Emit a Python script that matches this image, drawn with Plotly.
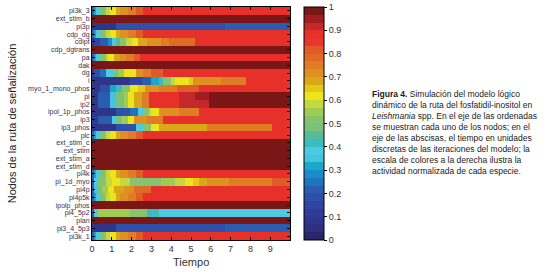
import plotly.graph_objects as go

# ---------------- data ----------------
nodes = ["pi3k_3", "ext_stim_b", "pi3p", "cdp_dg", "cdipt", "cdp_dgtrans", "pa", "dak",
         "dg", "i", "myo_1_mono_phos", "pi", "ip2", "ipol_1p_phos", "ip3", "ip3_phos",
         "plc", "ext_stim_c", "ext_stim", "ext_stim_a", "ext_stim_d", "pi4k", "pi_1d_myo",
         "pi4p", "pi4p5k", "ipolp_phos", "pi4_5p2", "plan", "pi3_4_5p3", "pi3k_1"]

# each profile: list of (start time, normalized activity)
act_pi3k_3 = [(0, 0.22), (0.15, 0.32), (0.25, 0.38), (0.4, 0.47), (0.6, 0.52), (0.75, 0.57),
              (0.95, 0.62), (1.2, 0.67), (1.45, 0.72), (1.8, 0.76), (2.2, 0.8), (2.6, 0.87)]
act_ext_stim_b = [(0, 0.99)]
act_pi3p = [(0, 0.08), (1.2, 0.17), (6.7, 0.2)]
act_cdp_dg = [(0, 0.22), (0.15, 0.32), (0.25, 0.38), (0.4, 0.47), (0.6, 0.52), (0.75, 0.57),
              (0.95, 0.62), (1.2, 0.67), (1.45, 0.72), (1.8, 0.76), (2.2, 0.8), (2.6, 0.87)]
act_cdipt = [(0, 0.07), (0.15, 0.15), (0.45, 0.22), (0.8, 0.27), (1.0, 0.37), (1.2, 0.45),
             (1.45, 0.52), (1.75, 0.57), (2.0, 0.62), (2.35, 0.67), (2.8, 0.72), (3.5, 0.76),
             (3.9, 0.79), (5.2, 0.87)]
act_cdp_dgtrans = [(0, 0.99)]
act_pa = [(0, 0.22), (0.15, 0.32), (0.25, 0.38), (0.4, 0.47), (0.55, 0.53), (0.7, 0.58),
          (0.85, 0.62), (1.1, 0.67), (1.4, 0.72), (1.7, 0.76), (2.1, 0.8), (2.45, 0.87)]
act_dak = [(0, 0.99)]
act_dg = [(0, 0.07), (0.1, 0.18), (0.4, 0.25), (0.75, 0.37), (1.1, 0.47), (1.35, 0.55),
          (1.6, 0.6), (1.9, 0.63), (2.2, 0.7), (2.6, 0.75), (3.0, 0.8), (3.6, 0.87)]
act_i = [(0, 0.07), (1.9, 0.15), (2.5, 0.22), (3.0, 0.33), (3.4, 0.4), (3.65, 0.5),
         (4.0, 0.57), (4.25, 0.62), (4.9, 0.66), (5.1, 0.7), (6.5, 0.75), (7.8, 0.87)]
act_myo_1_mono_phos = [(0, 0.07), (0.4, 0.18), (0.9, 0.3), (1.2, 0.42), (1.5, 0.52),
                       (1.9, 0.6), (2.3, 0.65), (2.7, 0.72), (3.4, 0.76), (4.3, 0.8), (5.4, 0.87)]
act_pi = [(0, 0.07), (0.3, 0.2), (0.9, 0.35), (1.2, 0.47), (1.6, 0.55), (1.8, 0.62),
          (2.1, 0.68), (2.5, 0.75), (2.9, 0.87), (4.4, 0.92), (5.2, 0.95), (5.9, 0.99)]
act_ip2 = [(0, 0.07), (0.3, 0.2), (0.9, 0.35), (1.2, 0.47), (1.6, 0.55), (1.8, 0.62),
           (2.1, 0.68), (2.5, 0.75), (2.9, 0.87), (4.4, 0.92), (5.9, 0.99)]
act_ipol_1p_phos = [(0, 0.07), (1.2, 0.17), (1.9, 0.25), (2.3, 0.37), (2.6, 0.5), (2.9, 0.57),
                    (3.0, 0.62), (3.4, 0.7), (4.4, 0.76), (5.4, 0.87)]
act_ip3 = [(0, 0.12), (0.3, 0.22), (1.0, 0.37), (1.2, 0.48), (1.5, 0.55), (1.85, 0.62),
           (2.1, 0.7), (2.8, 0.76), (3.6, 0.87)]
act_ip3_phos = [(0, 0.07), (1.2, 0.17), (2.2, 0.37), (2.6, 0.5), (3.0, 0.62), (3.4, 0.69),
                (5.8, 0.75), (9.1, 0.87)]
act_plc = [(0, 0.22), (0.15, 0.32), (0.25, 0.38), (0.4, 0.47), (0.6, 0.52), (0.75, 0.57),
           (0.95, 0.62), (1.2, 0.67), (1.45, 0.72), (1.8, 0.76), (2.2, 0.8), (2.6, 0.87)]
act_ext_stim_c = [(0, 0.99)]
act_ext_stim = [(0, 0.99)]
act_ext_stim_a = [(0, 0.99)]
act_ext_stim_d = [(0, 0.99)]
act_pi4k = [(0, 0.22), (0.15, 0.32), (0.25, 0.38), (0.4, 0.47), (0.6, 0.52), (0.75, 0.57),
            (0.95, 0.62), (1.2, 0.67), (1.45, 0.72), (1.8, 0.76), (2.2, 0.8), (2.6, 0.87)]
act_pi_1d_myo = [(0, 0.22), (0.15, 0.37), (0.35, 0.5), (0.7, 0.57), (1.0, 0.62), (1.4, 0.57),
                 (1.9, 0.52), (3.5, 0.56), (4.2, 0.58), (4.7, 0.62), (5.1, 0.65), (5.4, 0.69),
                 (5.8, 0.72), (6.9, 0.76), (9.1, 0.8)]
act_pi4p = [(0, 0.22), (0.15, 0.35), (0.3, 0.47), (0.55, 0.55), (0.85, 0.62), (1.1, 0.69),
            (1.6, 0.73), (2.1, 0.77), (3.0, 0.87)]
act_pi4p5k = [(0, 0.22), (0.15, 0.32), (0.25, 0.38), (0.4, 0.47), (0.6, 0.52), (0.75, 0.57),
              (0.95, 0.62), (1.2, 0.67), (1.45, 0.72), (1.8, 0.76), (2.2, 0.8), (2.6, 0.87)]
act_ipolp_phos = [(0, 0.99)]
act_pi4_5p2 = [(0, 0.22), (0.15, 0.37), (0.35, 0.55), (1.9, 0.5), (2.8, 0.43), (3.4, 0.37)]
act_plan = [(0, 0.99)]
act_pi3_4_5p3 = [(0, 0.08), (1.2, 0.17), (6.7, 0.2)]
act_pi3k_1 = [(0, 0.22), (0.15, 0.32), (0.25, 0.38), (0.4, 0.47), (0.6, 0.52), (0.75, 0.57),
              (0.95, 0.62), (1.2, 0.67), (1.45, 0.72), (1.8, 0.76), (2.2, 0.8), (2.6, 0.87)]

profiles = [act_pi3k_3, act_ext_stim_b, act_pi3p, act_cdp_dg, act_cdipt, act_cdp_dgtrans,
            act_pa, act_dak, act_dg, act_i, act_myo_1_mono_phos, act_pi, act_ip2,
            act_ipol_1p_phos, act_ip3, act_ip3_phos, act_plc, act_ext_stim_c, act_ext_stim,
            act_ext_stim_a, act_ext_stim_d, act_pi4k, act_pi_1d_myo, act_pi4p, act_pi4p5k,
            act_ipolp_phos, act_pi4_5p2, act_plan, act_pi3_4_5p3, act_pi3k_1]

time_steps = [round(0.05 + 0.1 * k, 2) for k in range(100)]
x_ticks = list(range(10))
cbar_ticks = [round(0.1 * k, 1) for k in range(11)]
cbar_labels = ["0", "0.1", "0.2", "0.3", "0.4", "0.5", "0.6", "0.7", "0.8", "0.9", "1"]

# stepped colour map (bottom -> top), each band 1/30 wide
band_colors = ["#2b2468", "#2f2f82", "#30358c", "#2f3c96", "#2e46a0", "#2e50a8",
               "#2a5cb0", "#1f74c0", "#1a8ccc", "#1ba8c8", "#44c4e0", "#4ccae2",
               "#3cbcc0", "#58bc98", "#7cc27a", "#86c470", "#a0cc54", "#c4d840",
               "#ece51c", "#e4c818", "#d8a818", "#e09020", "#e07c24", "#e06a26",
               "#e25a28", "#e8362c", "#e8302a", "#c4282a", "#a01e1e", "#7a1616"]


def lookup(profile, t):
    v = profile[0][1]
    for start, val in profile:
        if t >= start:
            v = val
    return v


z = [[lookup(p, t) for t in time_steps] for p in profiles]
row_index = list(range(len(nodes)))

n = len(band_colors)
colorscale = []
for k, c in enumerate(band_colors):
    colorscale.append([k / n, c])
    colorscale.append([(k + 1) / n, c])

FONT = "Liberation Sans, Arial, sans-serif"

fig = go.Figure(go.Heatmap(
    z=z, x=time_steps, y=row_index, zmin=0, zmax=1, colorscale=colorscale,
    colorbar=dict(thickness=20, len=1.0, lenmode="fraction", y=0.5, yanchor="middle",
                  x=1.0707, xanchor="left", xpad=0, ypad=0,
                  outlinewidth=1, outlinecolor="black",
                  tickvals=cbar_ticks, ticktext=cbar_labels, ticks="outside",
                  ticklen=3, tickcolor="black",
                  tickfont=dict(family=FONT, size=9, color="#333333")),
    hoverinfo="skip"))

fig.update_layout(
    width=546, height=272, margin=dict(l=92, r=256, t=7, b=32, autoexpand=False),
    paper_bgcolor="white", plot_bgcolor="white",
    font=dict(family=FONT, color="#222222"),
    xaxis=dict(range=[0, 10], tickmode="array", tickvals=x_ticks, ticks="inside", ticklen=3,
               tickcolor="black", showline=True, linecolor="black", linewidth=1,
               mirror="allticks", showgrid=False, zeroline=False, automargin=False,
               tickfont=dict(size=9, color="#333344")),
    yaxis=dict(range=[len(nodes) - 0.5, -0.5], tickmode="array", tickvals=row_index,
               ticktext=nodes, ticks="inside", ticklen=3, tickcolor="black",
               showline=True, linecolor="black", linewidth=1, mirror="allticks",
               showgrid=False, zeroline=False, automargin=False,
               tickfont=dict(size=7, color="#333355")),
    annotations=[
        dict(text="Nodos de la ruta de señalización", textangle=-90, showarrow=False,
             xref="paper", yref="paper", x=-0.405, y=0.5, xanchor="center",
             yanchor="middle", font=dict(size=11, color="#222222")),
        dict(text="Tiempo", showarrow=False, xref="paper", yref="paper",
             x=0.5, y=-0.095, xanchor="center", yanchor="middle",
             font=dict(size=11, color="#333333")),
        dict(text=("<b>Figura 4.</b> Simulación del modelo lógico<br>"
                   "dinámico de la ruta del fosfatidil-inositol en<br>"
                   "<i>Leishmania</i> spp. En el eje de las ordenadas<br>"
                   "se muestran cada uno de los nodos; en el<br>"
                   "eje de las abscisas, el tiempo en unidades<br>"
                   "discretas de las iteraciones del modelo; la<br>"
                   "escala de colores a la derecha ilustra la<br>"
                   "actividad normalizada de cada especie."),
             showarrow=False, align="left", xref="paper", yref="paper",
             x=1.404, y=0.655, xanchor="left", yanchor="top",
             font=dict(size=8.5, color="#1a1a1a")),
    ],
)

fig.write_html("out.html", config={"displayModeBar": False},
               post_script="document.body.style.margin='0px';document.body.style.padding='0px';")
